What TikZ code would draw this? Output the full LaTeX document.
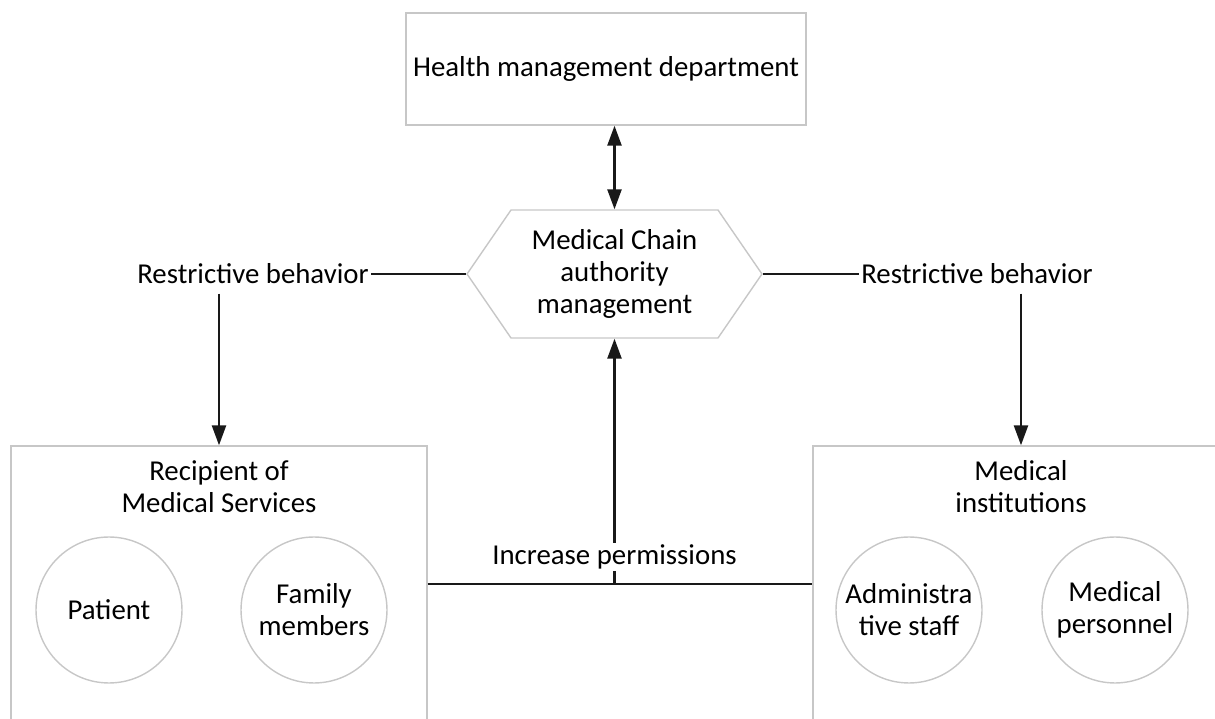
\documentclass[tikz,border=0pt]{standalone}
\usepackage{fontspec}
\setmainfont{Carlito}
\usetikzlibrary{arrows.meta,shapes.symbols,positioning}
\colorlet{boxColor}{black!22}
\colorlet{penColor}{black!90}
\tikzset{>={Triangle[length=4mm,width=2.8mm]},
  box/.style={draw=boxColor,line width=0.8pt,inner sep=0pt},
  member/.style={box,circle,minimum size=2.92cm,align=center},
  link/.style={draw=penColor,line width=1.4pt},
  tag/.style={inner sep=1pt}}

\begin{document}
\begin{tikzpicture}[x=0.02cm,y=-0.02cm,font=\fontsize{16.4}{18.3}\selectfont]
  \useasboundingbox (0,0) rectangle (1215,719);
  \clip (0,0) rectangle (1215,719);
  % top authority and the chain hub
  \node[box,minimum width=8cm,minimum height=2.24cm] (dept) at (606,69) {Health management department};
  \node[box,signal,signal from=nowhere,signal to=west and east,signal pointer angle=111,
        minimum width=5.9cm,minimum height=2.56cm,align=center] (chain) at (614.5,274)
        {Medical Chain\\authority\\management};
  % the two groups, open at the bottom
  \node[box,minimum width=8.32cm,minimum height=6cm] (recip) at (219,596) {};
  \node[align=center] (recipT) at (219,487) {Recipient of\\Medical Services};
  \node[member] (patient) at (109,610) {Patient};
  \node[member] (family) at (314,610) {Family\\members};
  \node[box,minimum width=8.32cm,minimum height=6cm] (inst) at (1021,596) {};
  \node[align=center] (instT) at (1021,487) {Medical\\institutions};
  \node[member] (admin) at (909,610) {Administra\\tive staff};
  \node[member] (staff) at (1115,610) {Medical\\personnel};
  \node[tag] (restrL) at (253,274) {Restrictive behavior};
  \node[tag] (restrR) at (977,274) {Restrictive behavior};
  \coordinate (join) at (614.5,584);
  % connectors
  \draw[link,<->] (chain.north |- dept.south) -- (chain.north);
  \draw[link] (chain.west) -- (restrL.east);
  \draw[link] (chain.east) -- (restrR.west);
  \draw[link,->] ([yshift=-1.5mm]restrL.south -| recip.north) -- (recip.north);
  \draw[link,->] ([yshift=-1.5mm]restrR.south -| inst.north) -- (inst.north);
  \draw[link] (recip.east |- join) -- (inst.west |- join);
  \draw[link,->] (join) -- (chain.south);
  \node[fill=white,tag] (incr) at (614.5,557) {Increase permissions};
\end{tikzpicture}
\end{document}
